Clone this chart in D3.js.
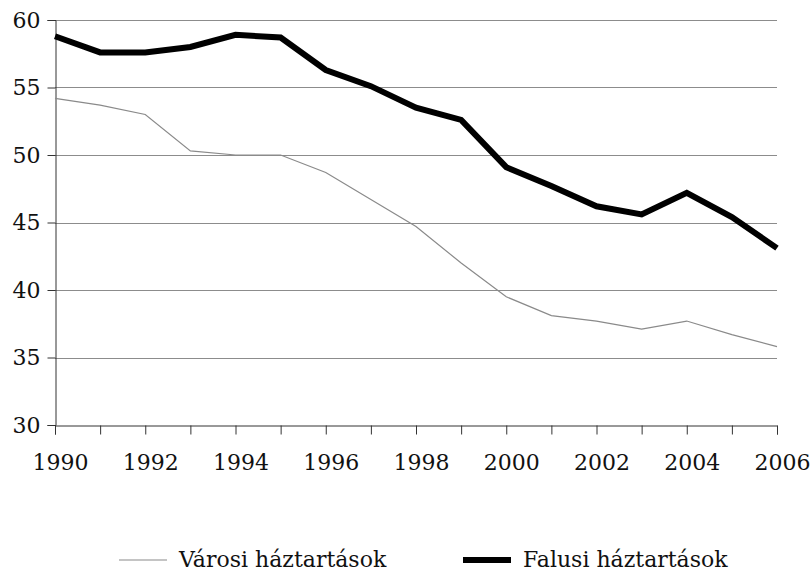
<!DOCTYPE html>
<html>
<head>
<meta charset="utf-8">
<script src="https://cdn.jsdelivr.net/npm/d3@7"></script>
<style>
  html, body { margin: 0; padding: 0; background: #fff; }
  text { font-family: "DejaVu Serif", "Liberation Serif", serif; }
</style>
</head>
<body>
<svg id="chart" width="812" height="572"></svg>
<script>
const years = [1990,1991,1992,1993,1994,1995,1996,1997,1998,1999,2000,2001,2002,2003,2004,2005,2006];
const varosi = [54.2,53.7,53.0,50.3,50.0,50.0,48.7,46.7,44.7,42.0,39.5,38.1,37.7,37.1,37.7,36.7,35.8];
const falusi = [58.8,57.6,57.6,58.0,58.9,58.7,56.3,55.1,53.5,52.6,49.1,47.7,46.2,45.6,47.2,45.4,43.1];
const yTicks = [30,35,40,45,50,55,60];
const xLabels = [1990,1992,1994,1996,1998,2000,2002,2004,2006];
const seriesNames = ["Városi háztartások", "Falusi háztartások"];

const svg = d3.select("#chart");
const m = {left: 55, right: 35, top: 20, bottom: 147};
const W = 812, H = 572;
const x = d3.scaleLinear().domain([1990, 2006]).range([m.left, W - m.right]);
const y = d3.scaleLinear().domain([30, 60]).range([H - m.bottom, m.top]);

// gridlines
svg.append("g").selectAll("line").data(yTicks.filter(d => d > 30)).join("line")
  .attr("x1", m.left).attr("x2", W - m.right)
  .attr("y1", d => Math.round(y(d)) + 0.5).attr("y2", d => Math.round(y(d)) + 0.5)
  .attr("stroke", "#8c8c8c").attr("stroke-width", 1);

// y axis
const yAxis = svg.append("g").attr("transform", `translate(${m.left + 0.5},0)`)
  .call(d3.axisLeft(y).tickValues(yTicks).tickSize(8).tickPadding(7).tickFormat(d3.format("d")));
yAxis.select(".domain").attr("stroke", "#333");
yAxis.selectAll(".tick line").attr("stroke", "#333");
yAxis.selectAll("text").attr("font-size", 22).attr("fill", "#111")
  .attr("font-family", "DejaVu Serif");

// x axis
const xAxis = svg.append("g").attr("transform", `translate(0,${Math.round(y(30)) + 0.5})`)
  .call(d3.axisBottom(x).tickValues(years).tickSize(9).tickPadding(20)
    .tickFormat(d => xLabels.includes(d) ? String(d) : ""));
xAxis.select(".domain").attr("stroke", "#333");
xAxis.selectAll(".tick line").attr("stroke", "#333");
xAxis.selectAll("text").attr("font-size", 22).attr("fill", "#111")
  .attr("font-family", "DejaVu Serif").attr("dx", 5);

const line = d3.line().x((d, i) => x(years[i])).y(d => y(d));

svg.append("path").datum(varosi).attr("d", line)
  .attr("fill", "none").attr("stroke", "#8a8a8a").attr("stroke-width", 1.2);
svg.append("path").datum(falusi).attr("d", line)
  .attr("fill", "none").attr("stroke", "#000").attr("stroke-width", 6)
  .attr("stroke-linejoin", "miter");

// legend
const legend = svg.append("g");
const items = [
  {name: seriesNames[0], x: 119, color: "#8a8a8a", w: 1.2},
  {name: seriesNames[1], x: 463, color: "#000", w: 6}
];
items.forEach(it => {
  legend.append("line").attr("x1", it.x).attr("x2", it.x + 48)
    .attr("y1", 560).attr("y2", 560).attr("stroke", it.color).attr("stroke-width", it.w);
  legend.append("text").attr("x", it.x + 60).attr("y", 567)
    .attr("font-size", 22).attr("fill", "#111").text(it.name);
});
</script>
</body>
</html>
